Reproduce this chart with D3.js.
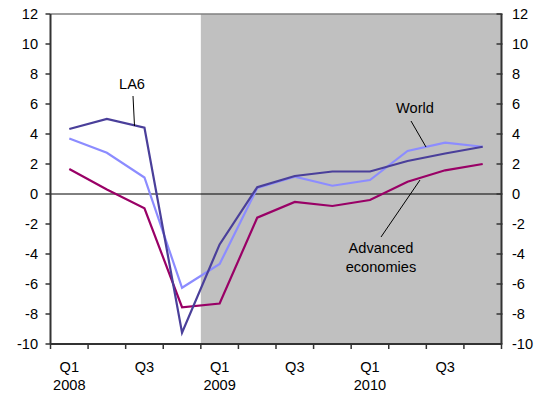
<!DOCTYPE html>
<html><head><meta charset="utf-8">
<script src="https://cdn.jsdelivr.net/npm/d3@7"></script>
<style>body{margin:0;background:#fff}svg{display:block}text{font-family:"Liberation Sans",Arial,sans-serif}</style>
</head><body><svg id="c" width="542" height="393"></svg>
<script>
const quarters = ["Q1 2008","Q2 2008","Q3 2008","Q4 2008","Q1 2009","Q2 2009","Q3 2009","Q4 2009","Q1 2010","Q2 2010","Q3 2010","Q4 2010"];
const tickLabels = ["Q1","","Q3","","Q1","","Q3","","Q1","","Q3",""];
const yearLabels = ["2008","","","","2009","","","","2010","","",""];
const la6 = [4.33, 5.0, 4.42, -9.24, -3.36, 0.45, 1.2, 1.5, 1.5, 2.2, 2.7, 3.15];
const world = [3.7, 2.75, 1.1, -6.25, -4.67, 0.4, 1.15, 0.55, 0.93, 2.87, 3.42, 3.15];
const advanced = [1.67, 0.3, -0.95, -7.55, -7.3, -1.58, -0.53, -0.8, -0.4, 0.82, 1.58, 2.0];
const yTicks = [12,10,8,6,4,2,0,-2,-4,-6,-8,-10];
const shadeStart = "Q1 2009";

const svg = d3.select("#c");
const L = 50.5, R = 501.5, T = 14, B = 344;
const FS = 14.6;
const x = d3.scaleBand().domain(quarters).range([L, R]).padding(0);
const y = d3.scaleLinear().domain([-10, 12]).range([B, T]);

svg.append("rect").attr("x", x(shadeStart)).attr("y", T)
  .attr("width", R - x(shadeStart)).attr("height", B - T).attr("fill", "#c0c0c0");

svg.append("line").attr("x1", L).attr("x2", R).attr("y1", T).attr("y2", T)
  .attr("stroke", "#808080").attr("stroke-width", 1.5);
svg.append("line").attr("x1", L).attr("x2", R).attr("y1", y(0)).attr("y2", y(0))
  .attr("stroke", "#000").attr("stroke-width", 1);

const ax = svg.append("g");
ax.append("line").attr("x1", L).attr("x2", L).attr("y1", T).attr("y2", B).attr("stroke", "#333").attr("stroke-width", 2);
ax.append("line").attr("x1", R).attr("x2", R).attr("y1", T).attr("y2", B).attr("stroke", "#333").attr("stroke-width", 2);
yTicks.forEach(v => {
  ax.append("line").attr("x1", L - 5).attr("x2", L).attr("y1", y(v)).attr("y2", y(v)).attr("stroke", "#333").attr("stroke-width", 1.5);
  ax.append("line").attr("x1", R - 5).attr("x2", R + 1).attr("y1", y(v)).attr("y2", y(v)).attr("stroke", "#333").attr("stroke-width", 1.5);
  ax.append("text").attr("x", 38).attr("y", y(v) + 5).attr("text-anchor", "end").attr("font-size", FS).attr("fill", "#000").text(v);
  ax.append("text").attr("x", 512).attr("y", y(v) + 5).attr("text-anchor", "start").attr("font-size", FS).attr("fill", "#000").text(v);
});
ax.append("line").attr("x1", L).attr("x2", R).attr("y1", B).attr("y2", B).attr("stroke", "#333").attr("stroke-width", 2);
quarters.forEach((q, i) => {
  const xs = x(q);
  ax.append("line").attr("x1", xs).attr("x2", xs).attr("y1", B).attr("y2", B + 5).attr("stroke", "#333").attr("stroke-width", 1.5);
  const cx = xs + x.bandwidth() / 2;
  if (tickLabels[i]) ax.append("text").attr("x", cx).attr("y", 372).attr("text-anchor", "middle").attr("font-size", FS).text(tickLabels[i]);
  if (yearLabels[i]) ax.append("text").attr("x", cx).attr("y", 390).attr("text-anchor", "middle").attr("font-size", FS).text(yearLabels[i]);
});
ax.append("line").attr("x1", R).attr("x2", R).attr("y1", B).attr("y2", B + 5).attr("stroke", "#333").attr("stroke-width", 1.5);

const line = d3.line().x((d, i) => x(quarters[i]) + x.bandwidth() / 2).y(d => y(d));
[[advanced, "#990066"], [world, "#8c8cff"], [la6, "#4a3f9a"]].forEach(([data, col]) => {
  svg.append("path").datum(data).attr("d", line).attr("fill", "none").attr("stroke", col).attr("stroke-width", 2.2);
});

const ann = svg.append("g").attr("font-size", FS);
ann.append("text").attr("x", 132).attr("y", 89).attr("text-anchor", "middle").text("LA6");
ann.append("line").attr("x1", 133).attr("y1", 96).attr("x2", 134.5).attr("y2", 126).attr("stroke", "#000").attr("stroke-width", 1);
ann.append("text").attr("x", 415).attr("y", 113).attr("text-anchor", "middle").text("World");
ann.append("line").attr("x1", 411).attr("y1", 121).attr("x2", 426).attr("y2", 147).attr("stroke", "#000").attr("stroke-width", 1);
ann.append("text").attr("x", 381).attr("y", 253).attr("text-anchor", "middle").text("Advanced");
ann.append("text").attr("x", 381).attr("y", 272).attr("text-anchor", "middle").text("economies");
ann.append("line").attr("x1", 381).attr("y1", 237).attr("x2", 420).attr("y2", 180).attr("stroke", "#000").attr("stroke-width", 1);
</script></body></html>
